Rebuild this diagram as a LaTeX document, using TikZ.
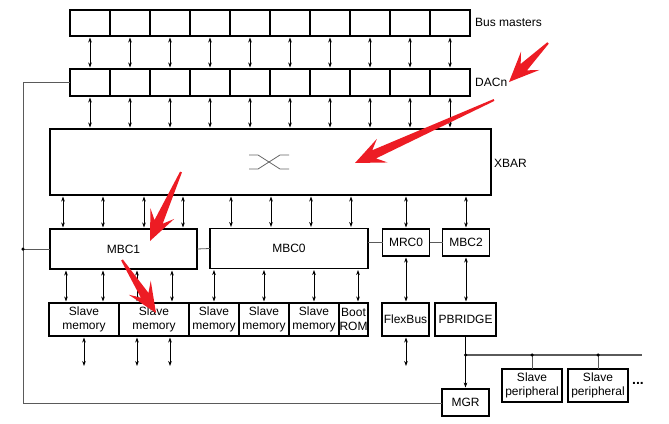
\documentclass[tikz,border=0pt]{standalone}
\usepackage{fontspec}
\setmainfont{Liberation Sans}
\usetikzlibrary{calc,arrows.meta}
\definecolor{annred}{RGB}{237,28,36}
\definecolor{wire}{RGB}{90,90,90}
\newcommand\redarrow[2]{%
  \coordinate (raT) at (#1);
  \coordinate (raP) at (#2);
  \coordinate (raN) at ($(raP)!21pt!(raT)$);
  \coordinate (raB) at ($(raP)!30pt!(raT)$);
  \fill[annred] ($(raT)!1pt!90:(raP)$) -- ($(raN)!4.5pt!-90:(raT)$) -- ($(raB)!13pt!-90:(raT)$) -- (raP)
     -- ($(raB)!13pt!90:(raT)$) -- ($(raN)!4.5pt!90:(raT)$) -- ($(raT)!1pt!-90:(raP)$) -- cycle;}
\begin{document}
\begin{tikzpicture}[x=1pt,y=-1pt,
  box/.style={draw, line width=1.6pt, inner sep=0pt, outer sep=0pt, align=center,
    font=\fontsize{12}{14}\selectfont},
  lbl/.style={anchor=west, inner sep=0pt, font=\fontsize{12}{14}\selectfont},
  conn/.style={line width=0.7pt, {Stealth[length=5pt,width=3.6pt]}-{Stealth[length=5pt,width=3.6pt]}, shorten <=1.5pt, shorten >=1.5pt},
  oneway/.style={line width=0.7pt, -{Stealth[length=5pt,width=3.6pt]}, shorten >=1.5pt},
  link/.style={line width=0.8pt, draw=wire},
  dot/.style={circle, fill=black, inner sep=0pt, minimum size=3.5pt}]
\useasboundingbox (0,0) rectangle (669,423);

% bus masters and DACn rows
\foreach \i in {1,...,10}{
  \node[box, minimum width=40pt, minimum height=26pt] (bm\i) at ({90+40*(\i-1)},23) {};
  \node[box, minimum width=40pt, minimum height=27pt] (dac\i) at ({90+40*(\i-1)},82.5) {};
}
\node[lbl] (lbm) at (475,22) {Bus masters};
\node[lbl] (ldac) at (475,82) {DACn};

% XBAR
\node[box, minimum width=441pt, minimum height=66pt] (xbar) at (270.5,162) {};
\node[lbl] (lxbar) at (494,163) {XBAR};
\draw[line width=0.8pt, draw=black!60] (249,155) -- (258,155) -- (280,169) -- (289,169);
\draw[line width=0.8pt, draw=black!60] (249,169) -- (258,169) -- (280,155) -- (289,155);

\foreach \i in {1,...,10}{
  \draw[conn] (bm\i.south) -- (dac\i.north);
  \draw[conn] (dac\i.south) -- (dac\i.south |- xbar.north);
}

% controllers
\node[box, minimum width=147pt, minimum height=40pt] (mbc1) at (123.5,249) {MBC1};
\node[box, minimum width=158pt, minimum height=40pt] (mbc0) at (289,248.5) {MBC0};
\node[box, minimum width=47pt, minimum height=27pt] (mrc0) at (406,242.5) {MRC0};
\node[box, minimum width=47pt, minimum height=27pt] (mbc2) at (466,242.5) {MBC2};

\foreach \x in {63,103,144,183}{
  \draw[conn] (\x,0 |- xbar.south) -- (\x,0 |- mbc1.north);
}
\foreach \x in {231,271,311,351}{
  \draw[conn] (\x,0 |- xbar.south) -- (\x,0 |- mbc0.north);
}
\draw[conn] (mrc0.north |- xbar.south) -- (mrc0.north);
\draw[conn] (mbc2.north |- xbar.south) -- (mbc2.north);

\draw[link] (mbc1.east) -- (mbc0.west);
\draw[link] (mbc0.east |- mrc0.west) -- (mrc0.west);
\draw[link] (mrc0.east) -- (mbc2.west);

% slave memories
\node[box, minimum width=70pt, minimum height=33pt] (sm1) at (84,319.5) {Slave\\memory};
\node[box, minimum width=70pt, minimum height=33pt] (sm2) at (154,319.5) {Slave\\memory};
\node[box, minimum width=50pt, minimum height=33pt] (sm3) at (214,319.5) {Slave\\memory};
\node[box, minimum width=50pt, minimum height=33pt] (sm4) at (264,319.5) {Slave\\memory};
\node[box, minimum width=50pt, minimum height=33pt] (sm5) at (314,319.5) {Slave\\memory};
\node[box, minimum width=29pt, minimum height=33pt] (boot) at (353.5,319.5) {Boot\\ROM};
\node[box, minimum width=47pt, minimum height=33pt] (flex) at (405.5,319.5) {FlexBus};
\node[box, minimum width=61pt, minimum height=33pt] (pbr) at (465.5,319.5) {PBRIDGE};

\draw[conn] (66,0 |- mbc1.south) -- (66,0 |- sm1.north);
\draw[conn] (103,0 |- mbc1.south) -- (103,0 |- sm1.north);
\draw[conn] (137,0 |- mbc1.south) -- (137,0 |- sm2.north);
\draw[conn] (172,0 |- mbc1.south) -- (172,0 |- sm2.north);
\draw[conn] (214,0 |- mbc0.south) -- (sm3.north);
\draw[conn] (264,0 |- mbc0.south) -- (sm4.north);
\draw[conn] (314,0 |- mbc0.south) -- (sm5.north);
\draw[conn] (358,0 |- mbc0.south) -- (358,0 |- boot.north);
\draw[conn] (mrc0.south) -- (mrc0.south |- flex.north);
\draw[conn] (mbc2.south) -- (mbc2.south |- pbr.north);

\coordinate (e1) at (84,366);
\coordinate (e2) at (137,366);
\coordinate (e3) at (170,366);
\coordinate (e4) at (406,366);
\draw[conn, shorten >=0pt] (84,0 |- sm1.south) -- (e1);
\draw[conn, shorten >=0pt] (137,0 |- sm2.south) -- (e2);
\draw[conn, shorten >=0pt] (170,0 |- sm2.south) -- (e3);
\draw[conn, shorten >=0pt] (406,0 |- flex.south) -- (e4);

% peripherals
\node[box, minimum width=47pt, minimum height=27pt] (mgr) at (465.5,402.5) {MGR};
\node[box, minimum width=60pt, minimum height=33pt] (sp1) at (532,385.5) {Slave\\peripheral};
\node[box, minimum width=60pt, minimum height=33pt] (sp2) at (598,385.5) {Slave\\peripheral};
\node[lbl, font=\bfseries\fontsize{14}{14}\selectfont] (more) at (632,383) {...};

\coordinate (pb) at (465.5,355);
\coordinate (pend) at (642,355);
\draw[oneway] (pbr.south) -- (mgr.north);
\draw[link, line width=1.2pt] (pb) -- (pend);
\draw[link] (sp1.north |- pb) -- (sp1.north);
\draw[link] (sp2.north |- pb) -- (sp2.north);
\node[dot] (d1) at (pb) {};
\node[dot] (d2) at (sp1.north |- pb) {};
\node[dot] (d3) at (sp2.north |- pb) {};

% management line
\coordinate (lt) at (23,82.5);
\coordinate (lm) at (23,249);
\coordinate (lb) at (23,403);
\draw[link] (dac1.west) -- (lt) -- (lb) -- (lb -| mgr.west);
\draw[link] (lm) -- (mbc1.west);
\node[dot] (d4) at (lm) {};

% red annotation arrows
\redarrow{548,43}{509,82}
\redarrow{494,100}{355,163}
\redarrow{181,172}{150,241}
\redarrow{122,260}{156,313}
\end{tikzpicture}
\end{document}
